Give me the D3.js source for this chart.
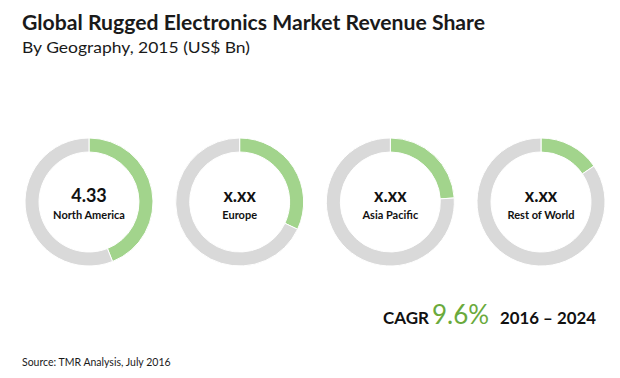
<!DOCTYPE html>
<html>
<head>
<meta charset="utf-8">
<script src="https://cdn.jsdelivr.net/npm/d3@7"></script>
<style>
  body { margin: 0; background: #fff; }
  text { font-family: Lato, "Open Sans", sans-serif; }
</style>
</head>
<body>
<div id="chart"></div>
<script>
// data
var regions = ["North America", "Europe", "Asia Pacific", "Rest of World"];
var centerLabels = ["4.33", "x.xx", "x.xx", "x.xx"];
var shares = [44, 32, 24, 15.5];   // percent of ring in green

var W = 620, H = 378;

var svg = d3.select("#chart").append("svg")
    .attr("width", W)
    .attr("height", H);

// titles
svg.append("text")
    .attr("x", 22).attr("y", 30)
    .attr("font-size", "20px").attr("font-weight", "bold")
    .attr("fill", "#1a1a1a")
    .attr("textLength", 463).attr("lengthAdjust", "spacingAndGlyphs")
    .text("Global Rugged Electronics Market Revenue Share");

svg.append("text")
    .attr("x", 22).attr("y", 53)
    .attr("font-size", "16px")
    .attr("fill", "#1a1a1a")
    .attr("textLength", 228).attr("lengthAdjust", "spacingAndGlyphs")
    .text("By Geography, 2015 (US$ Bn)");

// donuts
var x = d3.scalePoint()
    .domain(regions)
    .range([89, 541]);

var cy = 202, rOuter = 64, rInner = 50;

var pie = d3.pie().sort(null).value(function(d){ return d; });
var arc = d3.arc().innerRadius(rInner).outerRadius(rOuter);

var g = svg.selectAll(".donut")
    .data(regions)
    .enter().append("g")
    .attr("class", "donut")
    .attr("transform", function(d){ return "translate(" + x(d) + "," + cy + ")"; });

g.selectAll("path")
    .data(function(d, i){ return pie([shares[i], 100 - shares[i]]); })
    .enter().append("path")
    .attr("d", arc)
    .attr("fill", function(d, i){ return i === 0 ? "#a2d48c" : "#d9d9d9"; })
    .attr("stroke", "#fff")
    .attr("stroke-width", 1);

g.append("text")
    .attr("text-anchor", "middle")
    .attr("y", 0)
    .attr("font-size", "18px").attr("font-weight", "bold")
    .attr("fill", "#111")
    .text(function(d, i){ return centerLabels[i]; });

g.append("text")
    .attr("text-anchor", "middle")
    .attr("y", 17)
    .attr("font-size", "11px").attr("font-weight", "bold")
    .attr("fill", "#111")
    .text(function(d){ return d; });

// CAGR
svg.append("text")
    .attr("x", 383).attr("y", 324)
    .attr("font-size", "17px").attr("font-weight", "bold")
    .attr("fill", "#111")
    .text("CAGR");
svg.append("text")
    .attr("x", 432).attr("y", 324)
    .attr("font-size", "26px")
    .attr("fill", "#6aaa3c")
    .text("9.6%");
svg.append("text")
    .attr("x", 500).attr("y", 324)
    .attr("font-size", "17px").attr("font-weight", "bold")
    .attr("fill", "#111")
    .attr("textLength", 96).attr("lengthAdjust", "spacingAndGlyphs")
    .text("2016 \u2013 2024");

// source
svg.append("text")
    .attr("x", 22).attr("y", 366)
    .attr("font-size", "10.5px")
    .attr("fill", "#1a1a1a")
    .text("Source: TMR Analysis, July 2016");
</script>
</body>
</html>
